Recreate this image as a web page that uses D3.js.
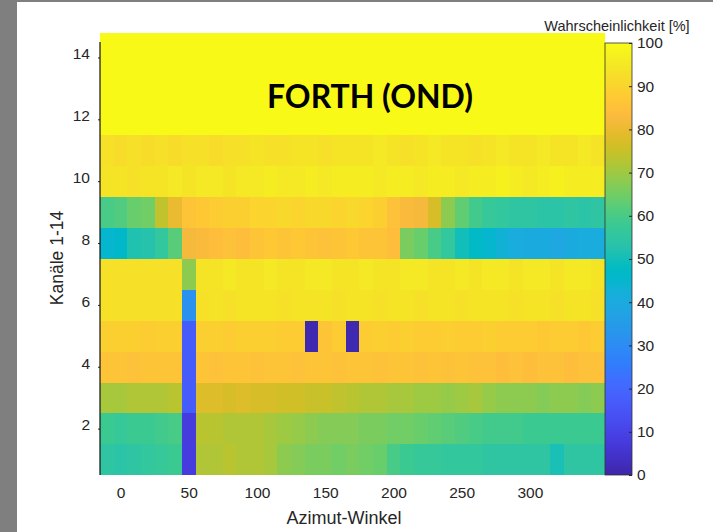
<!DOCTYPE html>
<html><head><meta charset="utf-8">
<script src="https://cdn.jsdelivr.net/npm/d3@7"></script>
<style>
html,body{margin:0;padding:0;background:#fff;}
svg{display:block;}
text{font-family:"Liberation Sans",Arial,sans-serif;}
</style></head>
<body><svg id="chart" width="713" height="532"></svg>
<script>
// ---------- data ----------
const azimuths = [-10,0,10,20,30,40,50,60,70,80,90,100,110,120,130,140,150,160,170,180,190,200,210,220,230,240,250,260,270,280,290,300,310,320,330,340,350];
const channels = [1,2,3,4,5,6,7,8,9,10,11,12,13,14];
const ch1  = [55,54,55,56,57,58,8,72,72,73,72,72,71,68,67,66,66,65,66,65,64,60,58,57,57,56,56,56,55,55,55,55,55,51,55,55,55];
const ch2  = [58,57,58,58,59,60,8,73,73,72,72,72,71,70,69,68,67,67,67,66,66,65,65,64,63,62,61,60,59,59,59,58,58,58,58,58,58];
const ch3  = [71,71,72,72,72,73,17,78,78,77,78,77,77,76,76,75,75,74,73,72,72,71,71,70,70,69,70,71,69,68,68,68,67,68,68,67,68];
const ch4  = [86,86,85,86,86,86,17,86,85,86,86,85,86,86,85,86,86,85,86,86,85,86,86,85,86,85,86,85,85,84,85,84,85,85,84,85,85];
const ch5  = [89,89,89,88,89,89,17,89,89,88,89,89,89,88,88,1,86,88,1,88,89,88,89,88,88,89,88,88,89,88,88,88,87,88,88,87,88];
const ch6  = [93,93,93,93,93,93,32,93,94,93,94,94,94,93,94,94,94,93,94,94,93,94,94,93,94,94,93,94,94,94,93,94,94,93,94,94,93];
const ch7  = [93,93,93,93,93,93,68,94,94,95,94,94,95,94,94,95,95,94,94,95,94,94,95,95,94,94,95,94,95,95,94,95,95,94,95,95,94];
const ch8  = [45,46,52,53,56,62,82,83,84,85,84,86,87,86,87,86,85,86,87,86,86,84,66,64,60,56,50,47,45,43,41,40,40,39,40,41,41];
const ch9  = [60,61,64,65,74,80,86,87,88,89,89,90,90,91,90,91,91,90,91,90,89,85,83,82,77,68,63,59,57,56,55,55,54,54,55,54,55];
const ch10 = [94,94,93,94,94,95,94,95,95,94,95,95,96,95,95,96,95,96,96,96,95,96,96,95,96,96,95,96,96,97,96,95,96,97,96,96,96];
const ch11 = [93,92,93,92,93,92,93,93,92,93,93,94,93,93,94,94,93,94,94,94,95,94,93,94,95,94,94,93,94,95,94,94,95,94,94,95,94];
const ch12 = [99,99,99,99,99,99,99,99,99,99,99,99,99,99,99,99,99,99,99,99,99,99,99,99,99,99,99,99,99,99,99,99,99,99,99,99,99];
const ch13 = [99,99,99,99,99,99,99,99,99,99,99,99,99,99,99,99,99,99,99,99,99,99,99,99,99,99,99,99,99,99,99,99,99,99,99,99,99];
const ch14 = [99,99,99,99,99,99,99,99,99,99,99,99,99,99,99,99,99,99,99,99,99,99,99,99,99,99,99,99,99,99,99,99,99,99,99,99,99];
const probability = [ch1,ch2,ch3,ch4,ch5,ch6,ch7,ch8,ch9,ch10,ch11,ch12,ch13,ch14];
const xTicks = [0,50,100,150,200,250,300];
const yTicks = [2,4,6,8,10,12,14];
const cbTicks = [0,10,20,30,40,50,60,70,80,90,100];
const titleText = "FORTH (OND)";
const xLabel = "Azimut-Winkel";
const yLabel = "Kanäle 1-14";
const cbLabel = "Wahrscheinlichkeit [%]";

// parula colormap (MATLAB)
const parula = [
[0.2422,0.1504,0.6603],[0.2504,0.1650,0.7076],[0.2578,0.1818,0.7511],[0.2647,0.1978,0.7952],
[0.2706,0.2147,0.8364],[0.2751,0.2342,0.8710],[0.2783,0.2559,0.8991],[0.2803,0.2782,0.9221],
[0.2813,0.3006,0.9414],[0.2810,0.3228,0.9579],[0.2795,0.3447,0.9717],[0.2760,0.3667,0.9829],
[0.2699,0.3892,0.9906],[0.2602,0.4123,0.9952],[0.2440,0.4358,0.9988],[0.2206,0.4603,0.9973],
[0.1963,0.4847,0.9892],[0.1834,0.5074,0.9798],[0.1786,0.5289,0.9682],[0.1764,0.5499,0.9520],
[0.1687,0.5703,0.9359],[0.1540,0.5902,0.9218],[0.1460,0.6091,0.9079],[0.1380,0.6276,0.8973],
[0.1248,0.6459,0.8883],[0.1113,0.6635,0.8763],[0.0952,0.6798,0.8598],[0.0689,0.6948,0.8394],
[0.0297,0.7082,0.8163],[0.0036,0.7203,0.7917],[0.0067,0.7312,0.7660],[0.0433,0.7411,0.7394],
[0.0964,0.7500,0.7120],[0.1408,0.7584,0.6842],[0.1717,0.7670,0.6554],[0.1938,0.7758,0.6251],
[0.2161,0.7843,0.5923],[0.2470,0.7918,0.5567],[0.2906,0.7973,0.5188],[0.3406,0.8008,0.4789],
[0.3909,0.8029,0.4354],[0.4456,0.8024,0.3909],[0.5044,0.7993,0.3480],[0.5616,0.7942,0.3045],
[0.6174,0.7876,0.2612],[0.6720,0.7793,0.2227],[0.7242,0.7698,0.1910],[0.7738,0.7598,0.1646],
[0.8203,0.7498,0.1535],[0.8634,0.7406,0.1596],[0.9035,0.7330,0.1774],[0.9393,0.7288,0.2100],
[0.9728,0.7298,0.2394],[0.9956,0.7434,0.2371],[0.9970,0.7659,0.2199],[0.9952,0.7893,0.2028],
[0.9892,0.8136,0.1885],[0.9786,0.8386,0.1766],[0.9676,0.8639,0.1643],[0.9610,0.8890,0.1537],
[0.9597,0.9135,0.1423],[0.9628,0.9373,0.1265],[0.9691,0.9606,0.1064],[0.9769,0.9839,0.0805]];

// ---------- layout ----------
const svg = d3.select("#chart");
const L = 100, R = 605, T = 42, B = 475;
const cbL = 605, cbR = 632;
const ink = "#262626";

const cols = parula.map(c => d3.rgb(c[0]*255, c[1]*255, c[2]*255).formatHex());
const interp = d3.piecewise(d3.interpolateRgb, cols);
const color = d3.scaleSequential(interp).domain([0,100]).clamp(true);

const binW = 10;
const x = d3.scaleLinear().domain([d3.min(azimuths)-binW/2, d3.max(azimuths)+binW/2]).range([L, R]);
const y = d3.scaleLinear().domain([0.5, 14.5]).range([B, T]);

// gray frame of screenshot
svg.append("rect").attr("x",0).attr("y",0).attr("width",713).attr("height",532).attr("fill","#fff");
svg.append("rect").attr("x",0).attr("y",0).attr("width",17).attr("height",532).attr("fill","#7f7f7f");
svg.append("rect").attr("x",0).attr("y",0).attr("width",713).attr("height",2).attr("fill","#7f7f7f");

// heatmap cells
const cells = [];
channels.forEach((ch, i) => azimuths.forEach((az, j) => cells.push({ch, az, v: probability[i][j]})));
svg.append("g").attr("shape-rendering","crispEdges")
  .selectAll("rect").data(cells).join("rect")
  .attr("x", d => x(d.az - binW/2))
  .attr("width", d => x(d.az + binW/2) - x(d.az - binW/2) + 0.3)
  .attr("y", d => y(d.ch + 0.5))
  .attr("height", d => y(d.ch - 0.5) - y(d.ch + 0.5) + 0.3)
  .attr("fill", d => color(d.v));

// title box (yellow) with label
const boxTop = y(14.5) - 9;
svg.append("rect").attr("x", x.range()[0]).attr("y", boxTop)
  .attr("width", x.range()[1]-x.range()[0]).attr("height", y(11.5)-boxTop)
  .attr("fill", color(99.5)).attr("shape-rendering","crispEdges");
const tt = svg.append("text").text(titleText)
  .attr("x", 370).attr("y", 96)
  .attr("text-anchor","middle").attr("dominant-baseline","central")
  .style("font-family","Lato, 'Open Sans', sans-serif").style("font-weight","bold")
  .style("font-size","28px").attr("fill","#000");
const tw = tt.node().getComputedTextLength();
tt.style("font-size", (28*206/tw).toFixed(2)+"px");

// y axis
const yAxis = svg.append("g").attr("transform",`translate(${L},0)`)
  .call(d3.axisLeft(y).tickValues(yTicks).tickSize(2).tickPadding(8).tickSizeOuter(0));
yAxis.select(".domain").remove();
yAxis.selectAll(".tick line").attr("stroke", ink);
yAxis.selectAll(".tick text").attr("fill", ink).style("font-size","15.5px").attr("dy","0.08em");
svg.append("line").attr("x1",L).attr("x2",L).attr("y1",T).attr("y2",B).attr("stroke","#111").attr("stroke-width",1.2);

// x axis
const xAxis = svg.append("g").attr("transform",`translate(0,${B})`)
  .call(d3.axisBottom(x).tickValues(xTicks).tickSize(0).tickPadding(12));
xAxis.select(".domain").remove();
xAxis.selectAll(".tick text").attr("fill", ink).style("font-size","15.5px");

// axis labels
svg.append("text").text(xLabel).attr("x",344).attr("y",524)
  .attr("text-anchor","middle").attr("fill",ink).style("font-size","18px");
svg.append("text").text(yLabel)
  .attr("transform","translate(63,258) rotate(-90)")
  .attr("text-anchor","middle").attr("fill",ink).style("font-size","17.5px");

// colorbar
const cbY = d3.scaleLinear().domain([0,100]).range([B, T+1]);
const defs = svg.append("defs");
const grad = defs.append("linearGradient").attr("id","cbgrad")
  .attr("x1","0").attr("y1","1").attr("x2","0").attr("y2","0");
grad.selectAll("stop").data(cols).join("stop")
  .attr("offset",(d,i)=> i/(cols.length-1)).attr("stop-color", d=>d);
svg.append("rect").attr("x",cbL).attr("y",cbY(100)).attr("width",cbR-cbL).attr("height",cbY(0)-cbY(100))
  .attr("fill","url(#cbgrad)").attr("stroke","#333").attr("stroke-width",0.8);
const cbAxis = svg.append("g").attr("transform",`translate(${cbR},0)`)
  .call(d3.axisRight(cbY).tickValues(cbTicks).tickSize(0).tickPadding(5));
cbAxis.select(".domain").remove();
cbAxis.selectAll(".tick text").attr("fill",ink).style("font-size","15.5px");
cbAxis.selectAll(".tick").append("line").attr("x1",-3).attr("x2",0).attr("stroke",ink);
svg.append("text").text(cbLabel).attr("x",617).attr("y",31)
  .attr("text-anchor","middle").attr("fill",ink).style("font-size","14.5px");
</script></body></html>
